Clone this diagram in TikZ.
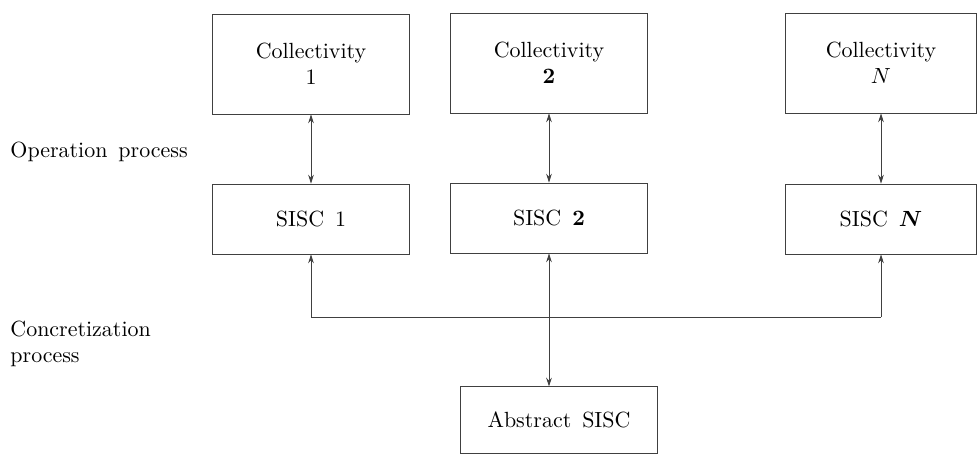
\documentclass[tikz,border=0pt]{standalone}
\usepackage{amsmath,amssymb}
\usepackage{bm}
\usepackage{tikz}
\usetikzlibrary{arrows.meta}
\tikzset{
  box/.style={draw=black!75, line width=0.4pt, minimum width=3.15cm, align=center, inner sep=0pt},
  collbox/.style={box, minimum height=1.6cm},
  siscbox/.style={box, minimum height=1.12cm},
  absbox/.style={box, minimum height=1.06cm},
  tag/.style={anchor=west, align=left, inner sep=0pt},
  onetip/.style={-{Stealth[length=4pt,width=2.6pt]}, draw=black!75, line width=0.4pt},
  twotips/.style={{Stealth[length=4pt,width=2.6pt]}-{Stealth[length=4pt,width=2.6pt]}, draw=black!75, line width=0.4pt}
}
\begin{document}
\begin{tikzpicture}[x=0.016cm, y=-0.016cm]
\useasboundingbox (0,0) rectangle (978,455);
\node[collbox] (c1) at (311,64) {Collectivity\\1};
\node[collbox] (c2) at (549,63) {Collectivity\\\textbf{2}};
\node[collbox, minimum width=3.06cm] (cn) at (881,63) {Collectivity\\$N$};
\node[siscbox] (s1) at (311,219) {SISC\enspace 1};
\node[siscbox] (s2) at (549,218) {SISC\enspace\textbf{2}};
\node[siscbox, minimum width=3.06cm] (sn) at (881,219) {SISC\enspace$\bm{N}$};
\node[absbox] (abs) at (559,420) {Abstract\enspace SISC};
\node[tag] (op) at (10,152) {Operation\enspace process};
\node[tag] (con) at (10,344) {Concretization\\process};
\coordinate (j1) at (311,317);
\coordinate (j2) at (549,317);
\coordinate (j3) at (881,317);
\draw[twotips] (c1) -- (s1);
\draw[twotips] (c2) -- (s2);
\draw[twotips] (cn) -- (sn);
\draw[draw=black!75, line width=0.4pt] (j1) -- (j3);
\draw[onetip] (j1) -- (s1);
\draw[onetip] (j2) -- (s2);
\draw[onetip] (j3) -- (sn);
\draw[onetip] (j2) -- (j2 |- abs.north);
\end{tikzpicture}
\end{document}
